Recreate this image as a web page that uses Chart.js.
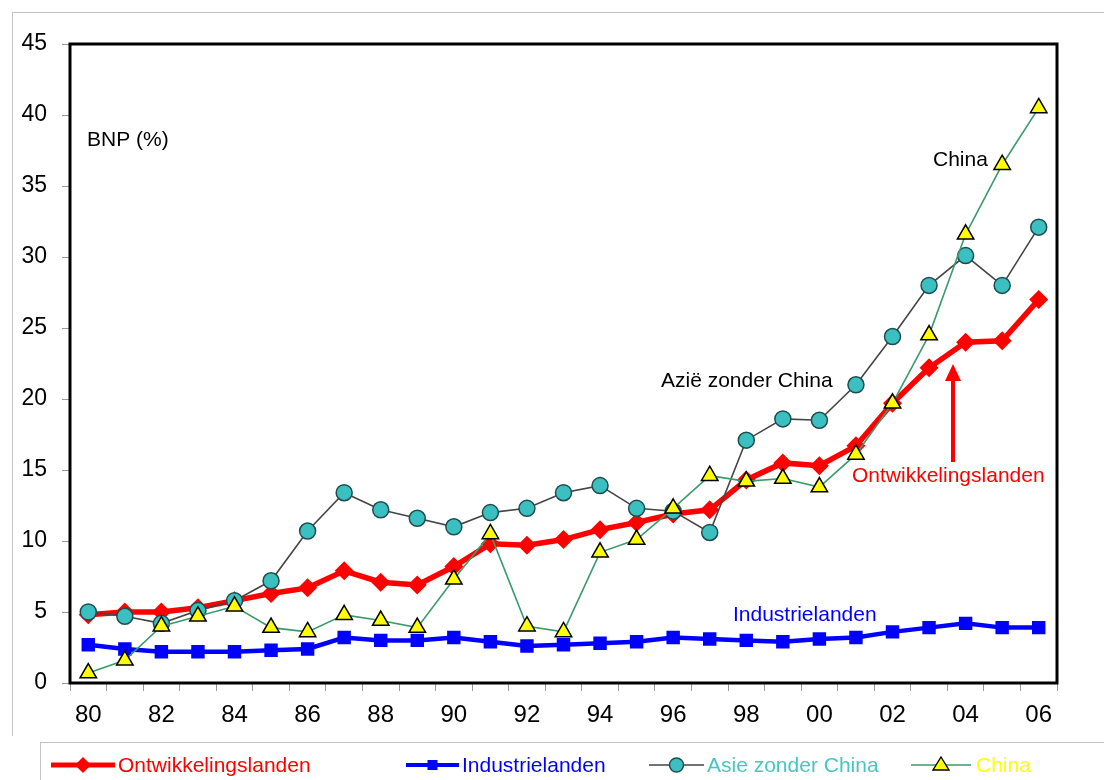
<!DOCTYPE html>
<html>
<head>
<meta charset="utf-8">
<script src="https://cdn.jsdelivr.net/npm/chart.js@4.4.0/dist/chart.umd.min.js"></script>
<style>
html,body{margin:0;padding:0;background:#fff;}
#wrap{position:relative;width:1104px;height:780px;overflow:hidden;font-family:"Liberation Sans",Arial,sans-serif;}
#c{position:absolute;left:0;top:0;}
#outerTop{position:absolute;left:12px;top:12px;width:1092px;height:1px;background:#c4c4c4;}
#outerLeft{position:absolute;left:12px;top:12px;width:1px;height:724px;background:#c4c4c4;}
#legend{position:absolute;left:40px;top:742px;width:1100px;height:70px;border:1px solid #c4c4c4;box-sizing:border-box;}
.item{position:absolute;top:9px;height:26px;line-height:26px;font-size:21px;white-space:nowrap;}
.item svg{position:absolute;top:0;}
.item span{position:absolute;top:0;}
</style>
</head>
<body>
<div id="wrap">
  <div id="outerTop"></div>
  <div id="outerLeft"></div>
  <canvas id="c" width="1104" height="780"></canvas>
  <div id="legend"></div>
</div>
<script>
// ---------- data ----------
const years = ['80','81','82','83','84','85','86','87','88','89','90','91','92','93','94','95','96','97','98','99','00','01','02','03','04','05','06'];
const xTickLabels = ['80','82','84','86','88','90','92','94','96','98','00','02','04','06'];
const yTicks = [0,5,10,15,20,25,30,35,40,45];

const seriesNames = ['Ontwikkelingslanden','Industrielanden','Asie zonder China','China'];

const ontwikkelingslanden = [4.8,5.0,5.0,5.3,5.8,6.3,6.7,7.9,7.1,6.9,8.2,9.8,9.7,10.1,10.8,11.3,11.9,12.2,14.3,15.5,15.3,16.7,19.7,22.2,24.0,24.1,27.0];
const industrielanden     = [2.7,2.4,2.2,2.2,2.2,2.3,2.4,3.2,3.0,3.0,3.2,2.9,2.6,2.7,2.8,2.9,3.2,3.1,3.0,2.9,3.1,3.2,3.6,3.9,4.2,3.9,3.9];
const asieZonderChina     = [5.0,4.7,4.2,5.1,5.8,7.2,10.7,13.4,12.2,11.6,11.0,12.0,12.3,13.4,13.9,12.3,12.1,10.6,17.1,18.6,18.5,21.0,24.4,28.0,30.1,28.0,32.1];
const china               = [0.7,1.6,4.0,4.7,5.4,3.9,3.6,4.8,4.4,3.9,7.3,10.5,4.0,3.6,9.2,10.1,12.3,14.6,14.2,14.4,13.8,16.1,19.7,24.5,31.6,36.5,40.5];

// ---------- styles ----------
const FONT = '"Liberation Sans", Arial, sans-serif';
const colRed = '#ff0000', colBlue = '#0000ff', colCyan = '#3cbfc1', colCyanLine = '#454545',
      colYellow = '#ffff00', colGreen = '#3a9a6e';

const framePlugin = {
  id: 'frame',
  afterDatasetsDraw(chart) {
    const {ctx, chartArea: a} = chart;
    ctx.save();
    ctx.strokeStyle = '#000';
    ctx.lineWidth = 3;
    ctx.strokeRect(a.left, a.top, a.right - a.left, a.bottom - a.top);
    ctx.restore();
  }
};

const annotationPlugin = {
  id: 'annot',
  afterDatasetsDraw(chart) {
    const ctx = chart.ctx;
    ctx.save();
    ctx.font = '21px ' + FONT;
    ctx.textBaseline = 'middle';
    ctx.textAlign = 'left';
    const notes = [
      ['BNP (%)', 87, 140, '#000'],
      ['China', 933, 160, '#000'],
      ['Azië zonder China', 661, 381, '#000'],
      ['Industrielanden', 733, 615, colBlue],
      ['Ontwikkelingslanden', 852, 476, colRed]
    ];
    notes.forEach(n => { ctx.fillStyle = n[3]; ctx.fillText(n[0], n[1], n[2]); });
    // red arrow
    ctx.strokeStyle = colRed; ctx.fillStyle = colRed; ctx.lineWidth = 4;
    ctx.beginPath(); ctx.moveTo(953, 462); ctx.lineTo(953, 378); ctx.stroke();
    ctx.beginPath(); ctx.moveTo(953, 364); ctx.lineTo(945, 381); ctx.lineTo(961, 381); ctx.closePath(); ctx.fill();
    ctx.restore();
  }
};

const ctx = document.getElementById('c').getContext('2d');
new Chart(ctx, {
  type: 'line',
  data: {
    labels: years,
    datasets: [
      { label: seriesNames[0], data: ontwikkelingslanden, borderColor: colRed, backgroundColor: colRed,
        borderWidth: 5.5, pointStyle: 'rectRot', pointRadius: 9.5, pointBorderWidth: 0, order: 4 },
      { label: seriesNames[1], data: industrielanden, borderColor: colBlue, backgroundColor: colBlue,
        borderWidth: 4.5, pointStyle: 'rect', pointRadius: 9.5, pointBorderWidth: 0, order: 3 },
      { label: seriesNames[2], data: asieZonderChina, borderColor: colCyanLine, backgroundColor: colCyan,
        pointBackgroundColor: colCyan, pointBorderColor: '#1e4d4e', borderWidth: 1.6,
        pointStyle: 'circle', pointRadius: 8, pointBorderWidth: 1.5, order: 2 },
      { label: seriesNames[3], data: china, borderColor: colGreen, backgroundColor: colYellow,
        pointBackgroundColor: colYellow, pointBorderColor: '#000', borderWidth: 1.6,
        pointStyle: 'triangle', pointRadius: 9.5, pointBorderWidth: 1.5, order: 1 }
    ]
  },
  options: {
    responsive: false,
    animation: false,
    events: [],
    layout: { padding: { left: 0, right: 47, top: 44, bottom: 41 } },
    plugins: { legend: { display: false }, tooltip: { enabled: false } },
    elements: { line: { tension: 0 } },
    scales: {
      x: {
        type: 'category',
        offset: true,
        grid: { display: true, offset: true, drawOnChartArea: false, drawTicks: true, tickLength: 8, color: '#999', lineWidth: 1 },
        border: { display: false },
        ticks: {
          autoSkip: false, maxRotation: 0, minRotation: 0, padding: 10,
          color: '#000', font: { family: FONT, size: 24 },
          callback: function(v, i) { const l = years[i]; return xTickLabels.includes(l) ? l : ''; }
        },
        afterFit(s) { s.height = 56; }
      },
      y: {
        min: 0, max: 45,
        afterBuildTicks(s) { s.ticks = yTicks.map(v => ({ value: v })); },
        grid: { display: true, drawOnChartArea: false, drawTicks: true, tickLength: 8, color: '#999', lineWidth: 1 },
        border: { display: false },
        ticks: { padding: 15, color: '#000', font: { family: FONT, size: 23 } },
        afterFit(s) { s.width = 70; }
      }
    }
  },
  plugins: [framePlugin, annotationPlugin]
});

// ---------- legend (HTML) ----------
const legendLayout = [
  { sx: 10, sw: 64, tx: 77, color: colRed, line: colRed, lw: 5, marker: 'diamond' },
  { sx: 365, sw: 53, tx: 421, color: colBlue, line: colBlue, lw: 4, marker: 'square' },
  { sx: 608, sw: 55, tx: 666, color: '#45c8c0', line: colCyanLine, lw: 1.6, marker: 'circle' },
  { sx: 870, sw: 60, tx: 935, color: colYellow, line: colGreen, lw: 1.6, marker: 'triangle' }
];
const legend = document.getElementById('legend');
seriesNames.forEach((name, i) => {
  const L = legendLayout[i];
  const it = document.createElement('div');
  it.className = 'item';
  it.style.left = '0px';
  const cx = L.sw / 2, cy = 13;
  let m = '';
  if (L.marker === 'diamond') m = `<polygon points="${cx},${cy-8} ${cx+8},${cy} ${cx},${cy+8} ${cx-8},${cy}" fill="${colRed}"/>`;
  if (L.marker === 'square') m = `<rect x="${cx-5}" y="${cy-5}" width="10" height="10" fill="${colBlue}"/>`;
  if (L.marker === 'circle') m = `<circle cx="${cx}" cy="${cy}" r="7" fill="${colCyan}" stroke="#1e4d4e" stroke-width="1.4"/>`;
  if (L.marker === 'triangle') m = `<polygon points="${cx},${cy-8} ${cx+8},${cy+5} ${cx-8},${cy+5}" fill="${colYellow}" stroke="#000" stroke-width="1.4"/>`;
  it.innerHTML = `<svg style="left:${L.sx}px" width="${L.sw}" height="26"><line x1="0" y1="${cy}" x2="${L.sw}" y2="${cy}" stroke="${L.line}" stroke-width="${L.lw}"/>${m}</svg>` +
                 `<span style="left:${L.tx}px;color:${L.color}">${name}</span>`;
  legend.appendChild(it);
});
</script>
</body>
</html>
